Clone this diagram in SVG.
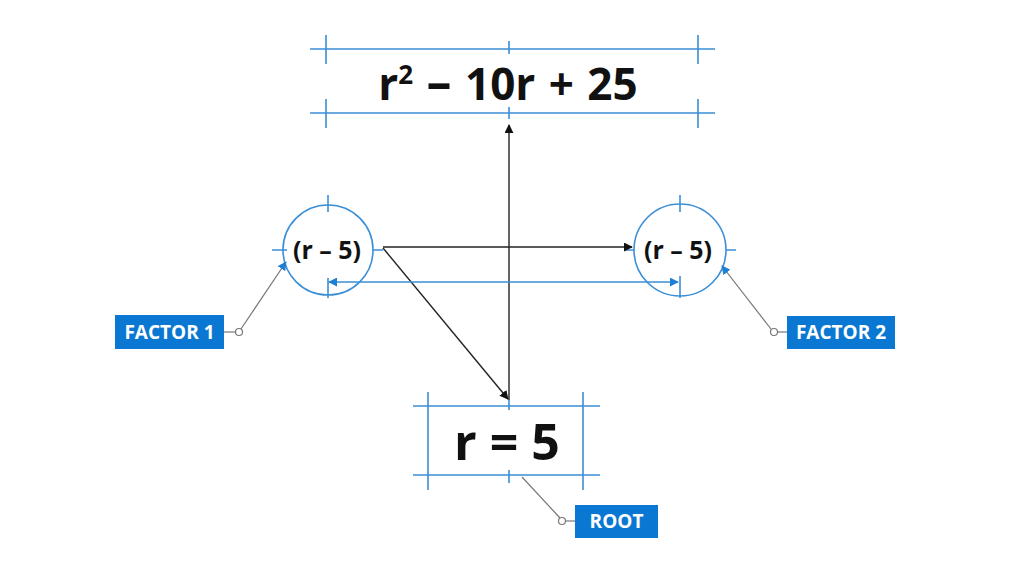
<svg xmlns="http://www.w3.org/2000/svg" width="1024" height="585" viewBox="0 0 1024 585">
<defs>
<style>
.b{stroke:#3b8fd6;stroke-width:1.6;fill:none}
.k{stroke:#222;stroke-width:1.4;fill:none}
.g{stroke:#777;stroke-width:1.2;fill:none}
.t{font-family:"Open Sans","Liberation Sans",sans-serif;font-weight:bold;fill:#111;text-anchor:middle}
.lbl{fill:#0a78d2}
.lt{font-family:"Open Sans","Liberation Sans",sans-serif;font-weight:bold;fill:#fff;text-anchor:middle;font-size:19px}
.dot{fill:#fff;stroke:#777;stroke-width:1.2}
</style>
<marker id="ak" viewBox="0 0 10 10" refX="9" refY="5" markerWidth="9" markerHeight="9" markerUnits="userSpaceOnUse" orient="auto"><path d="M0,0L10,5L0,10z" fill="#111"/></marker>
<marker id="ab" viewBox="0 0 10 10" refX="9" refY="5" markerWidth="9" markerHeight="9" markerUnits="userSpaceOnUse" orient="auto"><path d="M0,0L10,5L0,10z" fill="#1f7fd4"/></marker>
<marker id="abs" viewBox="0 0 10 10" refX="1" refY="5" markerWidth="9" markerHeight="9" markerUnits="userSpaceOnUse" orient="auto"><path d="M10,0L0,5L10,10z" fill="#1f7fd4"/></marker>
</defs>
<rect width="1024" height="585" fill="#fff"/>

<g id="expr">
<path class="b" d="M310,49H715M310,113H715M326,35V64M326,99V128M698,35V64M698,99V128M509,41V54M509,107V119"/>
<text class="t" x="508" y="100" font-size="44" word-spacing="2">r<tspan font-size="26" dy="-16">2</tspan><tspan dy="16"> <tspan font-size="50">–</tspan> 10r + 25</tspan></text>
</g>

<g id="factor1">
<circle class="b" cx="328" cy="250" r="45"/>
<path class="b" d="M328,195V212M272,250H287M373,250H383M328,278V298"/>
<text class="t" x="327" y="259" font-size="25">(r – 5)</text>
</g>

<g id="factor2">
<circle class="b" cx="680" cy="250" r="46"/>
<path class="b" d="M680,195V212M624,250H634M726,250H736M680,276V298"/>
<text class="t" x="678" y="259" font-size="25">(r – 5)</text>
</g>

<g id="root">
<path class="b" d="M413,406H600M413,475H600M428,392V490M583,392V490M509,400V410M509,470V483"/>
<text class="t" x="507" y="460" font-size="50">r = 5</text>
</g>

<g id="label1">
<rect class="lbl" x="115" y="315" width="109" height="34"/>
<text class="lt" x="169.5" y="339">FACTOR 1</text>
</g>
<g id="label2">
<rect class="lbl" x="787" y="316" width="108" height="33"/>
<text class="lt" x="841" y="339">FACTOR 2</text>
</g>
<g id="label3">
<rect class="lbl" x="575" y="505" width="83" height="33"/>
<text class="lt" x="616.5" y="528">ROOT</text>
</g>

<g id="connectors">
<line class="k" x1="383" y1="247" x2="632" y2="247" marker-end="url(#ak)"/>
<line class="k" x1="383" y1="248" x2="508" y2="399" marker-end="url(#ak)"/>
<line class="k" x1="509" y1="400" x2="509" y2="125" marker-end="url(#ak)"/>
<line class="b" x1="329" y1="282" x2="678" y2="282" marker-start="url(#abs)" marker-end="url(#ab)"/>
<path class="g" d="M224,332H235.5"/>
<line class="g" x1="241" y1="329" x2="286" y2="262" marker-end="url(#ab)"/>
<circle class="dot" cx="239" cy="332" r="3.5"/>
<path class="g" d="M787,332H777.5"/>
<line class="g" x1="771" y1="329" x2="722" y2="266" marker-end="url(#ab)"/>
<circle class="dot" cx="774" cy="332" r="3.5"/>
<path class="g" d="M575,521H565.5"/>
<line class="g" x1="560" y1="518" x2="522" y2="477"/>
<circle class="dot" cx="562" cy="521" r="3.5"/>
</g>
</svg>
